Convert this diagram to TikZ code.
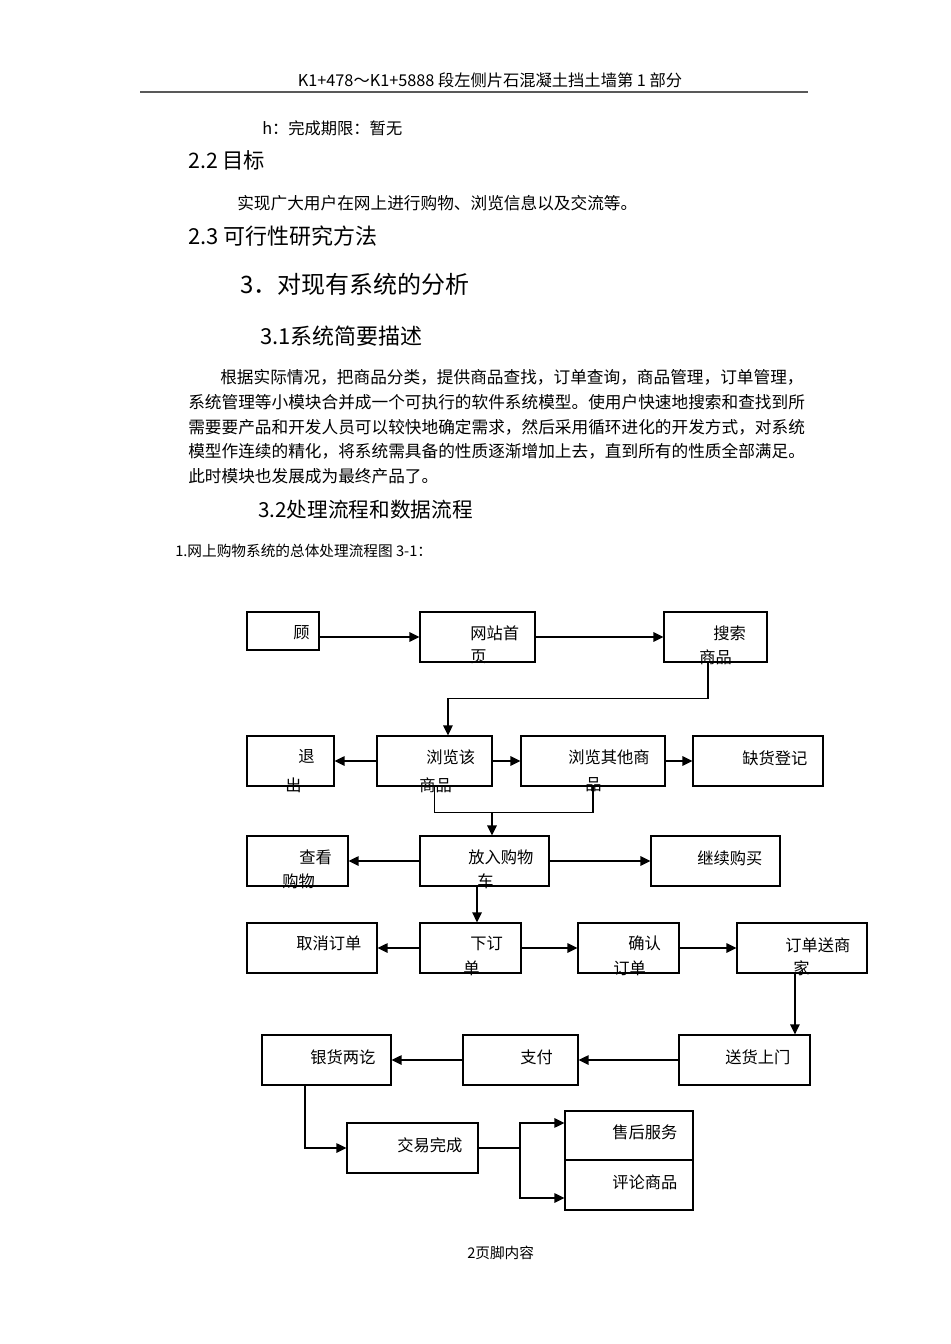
\documentclass[tikz,border=0pt]{standalone}
\usepackage{fontspec}
\setmainfont{Noto Sans CJK SC}
\usetikzlibrary{arrows.meta}
\tikzset{
    box/.style 2 args = {
        draw,
        line width = 0.8pt,
        minimum width = #1*0.75pt,
        minimum height = #2*0.75pt,
        inner sep = 0pt,
        },
    txt/.style = {
        anchor = west,
        inner sep = 0pt,
        font = \fontsize{12.2}{14}\selectfont,
        },
    body/.style = {
        anchor = west,
        inner sep = 0pt,
        font = \fontsize{12.5}{15}\selectfont,
        },
    head/.style = {
        anchor = west,
        inner sep = 0pt,
        font = \fontsize{#1}{#1}\selectfont,
        },
    arr/.style = {
        line width = 1.2pt,
        -{Triangle[length=7.5pt, width=7pt]},
        },
    link/.style = {
        line width = 1pt,
        },
}

\begin{document}
\begin{tikzpicture}[x=0.75pt, y=-0.75pt]
    \path[use as bounding box, fill=white] (0,0) rectangle (950,1344);

    % page head
    \node[head=12.2, anchor=center] (kopf) at (490,80) {K1+478～K1+5888 段左侧片石混凝土挡土墙第 1 部分};
    \draw[line width=1.6pt, black!65] (140,92) -- (808,92);

    \node[body, font=\fontsize{12.2}{14}\selectfont] (qixian) at (262,128) {h：完成期限：暂无};
    \node[head=16] (mubiao) at (188,160) {2.2 目标};
    \node[body] (mubiaot) at (237,203) {实现广大用户在网上进行购物、浏览信息以及交流等。};
    \node[head=16.5] (fangfa) at (188,236) {2.3 可行性研究方法};
    \node[head=18] (fenxi) at (240,284) {3．对现有系统的分析};
    \node[head=16.5] (miaoshu) at (260,336) {3.1系统简要描述};

    \node[body] (p1) at (220,377) {根据实际情况，把商品分类，提供商品查找，订单查询，商品管理，订单管理，};
    \node[body] (p2) at (188,402) {系统管理等小模块合并成一个可执行的软件系统模型。使用户快速地搜索和查找到所};
    \node[body] (p3) at (188,427) {需要要产品和开发人员可以较快地确定需求，然后采用循环进化的开发方式，对系统};
    \node[body] (p4) at (188,451) {模型作连续的精化，将系统需具备的性质逐渐增加上去，直到所有的性质全部满足。};
    \node[body] (p5) at (188,476) {此时模块也发展成为最终产品了。};

    \node[head=15.5] (liucheng) at (258,510) {3.2处理流程和数据流程};
    \node[head=11] (tuming) at (175,551) {1.网上购物系统的总体处理流程图 3-1：};

    % boxes
    \node[box={72}{38}] (gu) at (283,631) {};
    \node[box={115}{50}] (wzsy) at (477.5,637) {};
    \node[box={103}{50}] (ss) at (715.5,637) {};

    \node[box={87}{50}] (tc) at (290.5,761) {};
    \node[box={115}{50}] (llg) at (434.5,761) {};
    \node[box={144}{50}] (llqt) at (593,761) {};
    \node[box={130}{50}] (qhdj) at (758,761) {};

    \node[box={101}{50}] (ckgw) at (297.5,861) {};
    \node[box={129}{50}] (gwc) at (484.5,861) {};
    \node[box={129}{50}] (jxgm) at (715.5,861) {};

    \node[box={130}{50}] (qxdd) at (312,948) {};
    \node[box={101}{50}] (xdd) at (470.5,948) {};
    \node[box={101}{50}] (qrdd) at (628.5,948) {};
    \node[box={130}{50}] (ddss) at (802,948) {};

    \node[box={129}{50}] (yhlq) at (326.5,1060) {};
    \node[box={115}{50}] (zf) at (520.5,1060) {};
    \node[box={131}{50}] (shsm) at (744.5,1060) {};

    \node[box={131}{50}] (jywc) at (412.5,1148) {};
    \node[box={128}{49}] (shfw) at (629,1135.5) {};
    \node[box={128}{50}] (plsp) at (629,1185) {};

    % box texts
    \node[txt] (gu-t) at (293,633) {顾};
    \node[txt] (wzsy-t) at (470,633) {网站首};
    \node[txt] (wzsy-u) at (470,657) {页};
    \node[txt] (ss-t) at (713,633) {搜索};
    \node[txt] (ss-u) at (699,657) {商品};
    \node[txt] (tc-t) at (298,757) {退};
    \node[txt] (tc-u) at (285,785) {出};
    \node[txt] (llg-t) at (426,757) {浏览该};
    \node[txt] (llg-u) at (419,785) {商品};
    \node[txt] (llqt-t) at (568,757) {浏览其他商};
    \node[txt] (llqt-u) at (585,785) {品};
    \node[txt] (qhdj-t) at (742,758) {缺货登记};
    \node[txt] (ckgw-t) at (299,857) {查看};
    \node[txt] (ckgw-u) at (282,881) {购物};
    \node[txt] (gwc-t) at (468,857) {放入购物};
    \node[txt] (gwc-u) at (477,881) {车};
    \node[txt] (jxgm-t) at (697,858) {继续购买};
    \node[txt] (qxdd-t) at (296,943) {取消订单};
    \node[txt] (xdd-t) at (470,943) {下订};
    \node[txt] (xdd-u) at (463,968) {单};
    \node[txt] (qrdd-t) at (628,943) {确认};
    \node[txt] (qrdd-u) at (613,968) {订单};
    \node[txt] (ddss-t) at (785,945) {订单送商};
    \node[txt] (ddss-u) at (793,968) {家};
    \node[txt] (yhlq-t) at (310,1057) {银货两讫};
    \node[txt] (zf-t) at (520,1057) {支付};
    \node[txt] (shsm-t) at (725,1057) {送货上门};
    \node[txt] (jywc-t) at (397,1145) {交易完成};
    \node[txt] (shfw-t) at (612,1132) {售后服务};
    \node[txt] (plsp-t) at (612,1182) {评论商品};

    % connectors
    \draw[arr] (gu.east |- wzsy.west) -- (wzsy.west);
    \draw[arr] (wzsy.east) -- (ss.west);
    \draw[arr] ([xshift=-5.6pt]ss.south) -- ++(0,36) -| ([xshift=10.1pt]llg.north);

    \draw[arr] (llg.west) -- (tc.east);
    \draw[arr] (llg.east) -- (llqt.west);
    \draw[arr] (llqt.east) -- (qhdj.west);

    \draw[link] (llg.south) -- ++(0,26) -| (llqt.south);
    \coordinate (hui) at (492,812);
    \draw[arr] (hui) -- (hui |- gwc.north);

    \draw[arr] (gwc.west) -- (ckgw.east);
    \draw[arr] (gwc.east) -- (jxgm.west);
    \draw[arr] ([xshift=-5.6pt]gwc.south) -- ([xshift=-5.6pt]gwc.south |- xdd.north);

    \draw[arr] (xdd.west) -- (qxdd.east);
    \draw[arr] (xdd.east) -- (qrdd.west);
    \draw[arr] (qrdd.east) -- (ddss.west);
    \draw[arr] ([xshift=-5.3pt]ddss.south) -- ([xshift=-5.3pt]ddss.south |- shsm.north);

    \draw[arr] (shsm.west) -- (zf.east);
    \draw[arr] (zf.west) -- (yhlq.east);
    \draw[arr] ([xshift=-16.1pt]yhlq.south) |- (jywc.west);

    \coordinate (fen) at (520,1148);
    \draw[link] (jywc.east) -- (fen);
    \draw[arr] (fen) |- ([yshift=9.4pt]shfw.west);
    \draw[arr] (fen) |- ([yshift=-9.75pt]plsp.west);

    % page foot
    \node[head=11] (fuss) at (467,1253) {2页脚内容};
\end{tikzpicture}
\end{document}
